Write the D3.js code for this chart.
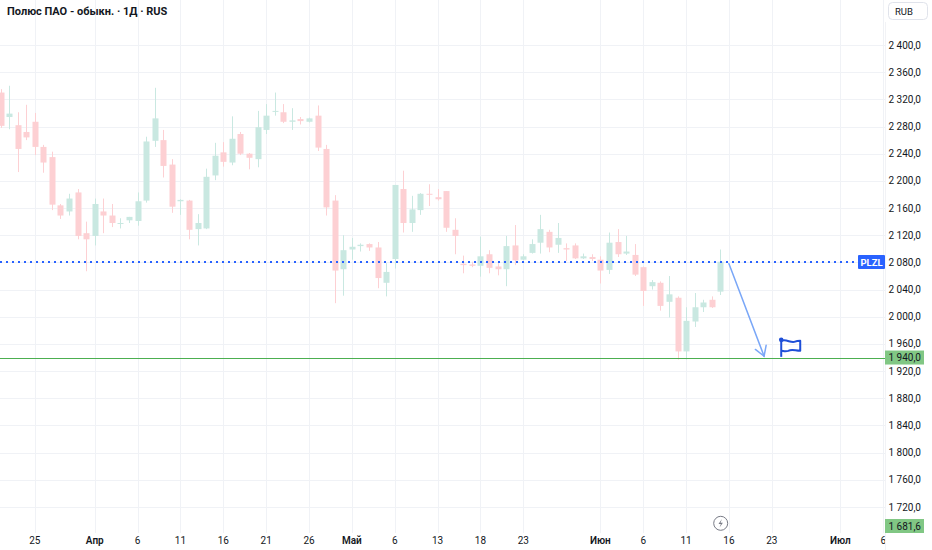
<!DOCTYPE html>
<html>
<head>
<meta charset="utf-8">
<script src="https://cdn.jsdelivr.net/npm/d3@7/dist/d3.min.js"></script>
<style>
  html, body { margin: 0; padding: 0; background: #ffffff; }
  svg { display: block; }
  text { font-family: Roboto, "Noto Sans", sans-serif; }
</style>
</head>
<body>
<svg id="chart" width="932" height="550"></svg>
<script>
// ---------- DATA ----------
const title = "Полюс ПАО - обыкн. · 1Д · RUS";
const currency = "RUB";
const symbol = "PLZL";

// daily candles (bar index = position in arrays)
const opens  = [2330,2294,2282,2272,2287,2250,2235,2164,2155,2183,2123,2119,2155,2149,2137,2142,2141,2171,2259,2260,
                2224,2170,2171,2129,2130,2208,2242,2227,2269,2240,2232,2275,2302,2301,2287,2291,2287,2296,2247,2171,
                2070,2099,2104,2107,2102,2050,2085,2188,2138,2157,2181,2176,2185,2128,2078,2077,2075,2092,2074,2070,
                2105,2084,2094,2109,2125,2106,2101,2105,2086,2088,2084,2069,2110,2093,2091,2073,2045,2050,2022,2028,
                1949,1993,2014,2025,2037];
const highs  = [2335,2340,2301,2312,2300,2253,2243,2166,2181,2188,2140,2174,2174,2166,2145,2147,2183,2265,2337,2275,
                2232,2173,2172,2151,2218,2256,2257,2295,2272,2241,2303,2313,2330,2313,2307,2294,2293,2311,2253,2179,
                2120,2116,2108,2108,2110,2079,2194,2215,2178,2182,2195,2188,2185,2145,2090,2081,2118,2098,2079,2119,
                2135,2092,2114,2150,2128,2138,2108,2108,2093,2092,2089,2124,2129,2119,2107,2074,2054,2052,2060,2030,
                2014,2035,2025,2030,2099];
const lows   = [2278,2276,2213,2260,2238,2212,2157,2144,2149,2114,2067,2105,2123,2132,2130,2138,2134,2168,2250,2205,
                2153,2150,2114,2105,2129,2201,2221,2223,2238,2217,2220,2269,2296,2285,2275,2283,2286,2244,2149,2020,
                2031,2084,2096,2097,2042,2030,2071,2124,2125,2150,2163,2171,2125,2092,2064,2073,2059,2064,2061,2045,
                2076,2083,2093,2093,2095,2094,2082,2085,2085,2082,2049,2063,2088,2091,2060,2016,2040,2009,1999,1937,
                1937,1985,2007,2013,2032];
const closes = [2281,2299,2247,2264,2250,2227,2165,2149,2174,2119,2114,2166,2149,2138,2138,2147,2170,2258,2292,2222,
                2162,2172,2128,2138,2206,2237,2228,2262,2240,2234,2279,2296,2303,2287,2289,2288,2292,2249,2161,2068,
                2098,2103,2106,2102,2057,2066,2194,2138,2158,2181,2180,2173,2131,2119,2076,2075,2089,2072,2070,2104,
                2083,2089,2107,2129,2102,2116,2099,2086,2089,2085,2068,2109,2092,2096,2062,2038,2051,2016,2033,1949,
                1994,2014,2021,2014,2081];

// time-axis labels and the bar index each one sits on
const timeLabels  = ["25","Апр","6","11","16","21","26","Май","6","13","18","23","Июн","6","11","16","23","Июл","6"];
const timeIndex   = [4,11,16,21,26,31,36,41,46,51,56,61,70,75,80,85,90,98,103];
const monthLabels = ["Апр","Май","Июн","Июл"];

// price-axis ticks
const priceTicks = [2400,2360,2320,2280,2240,2200,2160,2120,2080,2040,2000,1960,1920,1880,1840,1800,1760,1720];

// drawings
const levelPrice = 1940;          // horizontal green line
const lowerLabelPrice = 1681.6;   // label at bottom of the price axis
const arrowFrom = {i: 85.0, p: 2078};
const arrowTo   = {i: 89.1, p: 1942};
const flagAt    = {i: 91.1, p: 1941};

// ---------- LAYOUT ----------
const W = 932, H = 550;
const plotRight = 885, plotBottom = 533;
const svg = d3.select("#chart");

const x = d3.scaleLinear().domain([0, 100]).range([0.5, 857.5]);
const y = d3.scaleLinear().domain([1720, 2400]).range([507, 45]);
const fmt = v => {
  const s = d3.format(",.1f")(v);
  return s.replace(/,/g, " ").replace(".", ",");
};
const px = v => Math.round(v) + 0.5;

const upBody = "#c9e8e1", downBody = "#fdd0d3";

const defs = svg.append("defs");
defs.append("clipPath").attr("id", "plotclip")
  .append("rect").attr("x", 0).attr("y", 0).attr("width", plotRight).attr("height", plotBottom);
defs.append("clipPath").attr("id", "timeclip")
  .append("rect").attr("x", 0).attr("y", plotBottom).attr("width", plotRight).attr("height", H - plotBottom);

const plot = svg.append("g").attr("clip-path", "url(#plotclip)");

// grid
plot.append("g").selectAll("line").data(priceTicks).join("line")
  .attr("x1", 0).attr("x2", plotRight)
  .attr("y1", d => px(y(d))).attr("y2", d => px(y(d)))
  .attr("stroke", "#f0f2f6").attr("stroke-width", 1);
plot.append("g").selectAll("line").data(timeIndex).join("line")
  .attr("x1", d => px(x(d))).attr("x2", d => px(x(d)))
  .attr("y1", 0).attr("y2", plotBottom)
  .attr("stroke", "#f0f2f6").attr("stroke-width", 1);

// candles
const candles = opens.map((o, i) => ({i, o, h: highs[i], l: lows[i], c: closes[i]}));
const bodyW = 6;
const cg = plot.append("g");
cg.selectAll("line").data(candles).join("line")
  .attr("x1", d => px(x(d.i))).attr("x2", d => px(x(d.i)))
  .attr("y1", d => y(d.h)).attr("y2", d => y(d.l))
  .attr("stroke", d => d.c >= d.o ? upBody : downBody).attr("stroke-width", 1);
cg.selectAll("rect").data(candles).join("rect")
  .attr("x", d => px(x(d.i)) - bodyW / 2)
  .attr("width", bodyW)
  .attr("y", d => y(Math.max(d.o, d.c)))
  .attr("height", d => Math.max(1, Math.abs(y(d.o) - y(d.c))))
  .attr("fill", d => d.c >= d.o ? upBody : downBody);

// green level line
plot.append("line")
  .attr("x1", 0).attr("x2", plotRight)
  .attr("y1", px(y(levelPrice))).attr("y2", px(y(levelPrice)))
  .attr("stroke", "#4caf50").attr("stroke-width", 1);

// last price dotted line
const last = closes[closes.length - 1];
plot.append("line")
  .attr("x1", 0).attr("x2", 858)
  .attr("y1", Math.round(y(last))).attr("y2", Math.round(y(last)))
  .attr("stroke", "#2962ff").attr("stroke-width", 2).attr("stroke-dasharray", "2,4");

// arrow drawing
const ax1 = x(arrowFrom.i), ay1 = y(arrowFrom.p), ax2 = x(arrowTo.i), ay2 = y(arrowTo.p);
const ang = Math.atan2(ay2 - ay1, ax2 - ax1);
const headLen = 11, headAng = 0.55;
const ag = plot.append("g").attr("stroke", "#7aa7f7").attr("stroke-width", 1.5).attr("fill", "none")
  .attr("stroke-linecap", "round");
ag.append("line").attr("x1", ax1).attr("y1", ay1).attr("x2", ax2).attr("y2", ay2);
ag.append("path").attr("d",
  `M${ax2 - headLen * Math.cos(ang - headAng)},${ay2 - headLen * Math.sin(ang - headAng)}` +
  `L${ax2},${ay2}` +
  `L${ax2 - headLen * Math.cos(ang + headAng)},${ay2 - headLen * Math.sin(ang + headAng)}`);

// flag drawing
const fx = x(flagAt.i), fy = y(flagAt.p);
const fg = plot.append("g").attr("transform", `translate(${fx},${fy})`)
  .attr("stroke", "#1e4fd8").attr("stroke-width", 2).attr("fill", "none").attr("stroke-linejoin", "round");
fg.append("line").attr("x1", 0).attr("y1", 0).attr("x2", 0).attr("y2", -17);
fg.append("path").attr("d", "M0,-16 C5,-18 9,-14 13,-15 C16,-16 18,-16 19,-16 L19,-6 C14,-6 11,-8 7,-6 C4,-5 2,-6 0,-6");
fg.append("circle").attr("cx", 0).attr("cy", -17).attr("r", 1.3).attr("fill", "#1e4fd8");

// lightning icon
const lg = svg.append("g").attr("transform", "translate(720.7,523.3)");
lg.append("circle").attr("r", 7).attr("fill", "#fff").attr("stroke", "#787b86").attr("stroke-width", 1);
lg.append("path").attr("d", "M1.2,-4.2 L-2.2,0.6 L0.2,0.6 L-1.2,4.2 L2.2,-0.6 L-0.2,-0.6 Z")
  .attr("fill", "#787b86");

// time axis labels
const tg = svg.append("g").attr("clip-path", "url(#timeclip)");
tg.selectAll("text").data(timeLabels.map((t, k) => ({t, i: timeIndex[k]}))).join("text")
  .attr("x", d => x(d.i)).attr("y", 544)
  .attr("text-anchor", "middle")
  .attr("font-size", 10)
  .attr("font-weight", d => monthLabels.includes(d.t) ? 600 : 400)
  .attr("fill", "#131722")
  .text(d => d.t);

// price axis
svg.append("line").attr("x1", plotRight + 0.5).attr("x2", plotRight + 0.5).attr("y1", 22).attr("y2", H)
  .attr("stroke", "#f2f3f6");
svg.append("g").selectAll("text").data(priceTicks).join("text")
  .attr("x", 921).attr("y", d => y(d) + 3.5)
  .attr("text-anchor", "end").attr("font-size", 10).attr("fill", "#131722")
  .text(d => fmt(d));

// level labels
function axisLabel(price, clampBottom) {
  let cy = y(price);
  if (clampBottom && cy + 7 > plotBottom) cy = plotBottom - 7;
  svg.append("rect").attr("x", 885).attr("y", cy - 7).attr("width", 39).attr("height", 14)
    .attr("fill", "#81c784");
  svg.append("text").attr("x", 921).attr("y", cy + 3.5).attr("text-anchor", "end")
    .attr("font-size", 10).attr("fill", "#131722").text(fmt(price));
}
axisLabel(levelPrice, false);
axisLabel(lowerLabelPrice, true);

// symbol label
svg.append("rect").attr("x", 858).attr("y", Math.round(y(last)) - 7).attr("width", 27).attr("height", 14)
  .attr("fill", "#2962ff").attr("rx", 1);
svg.append("text").attr("x", 871.5).attr("y", Math.round(y(last)) + 3.5).attr("text-anchor", "middle")
  .attr("font-size", 9.5).attr("font-weight", 700).attr("fill", "#ffffff").text(symbol);

// currency button
svg.append("rect").attr("x", 888.5).attr("y", 2.5).attr("width", 39).attr("height", 17).attr("rx", 4)
  .attr("fill", "#fff").attr("stroke", "#e0e3eb");
svg.append("text").attr("x", 895).attr("y", 14.5).attr("font-size", 9.5).attr("fill", "#131722").text(currency);

// title
svg.append("text").attr("x", 7).attr("y", 15).attr("font-size", 11).attr("font-weight", 700)
  .attr("fill", "#131722").text(title);
</script>
</body>
</html>
